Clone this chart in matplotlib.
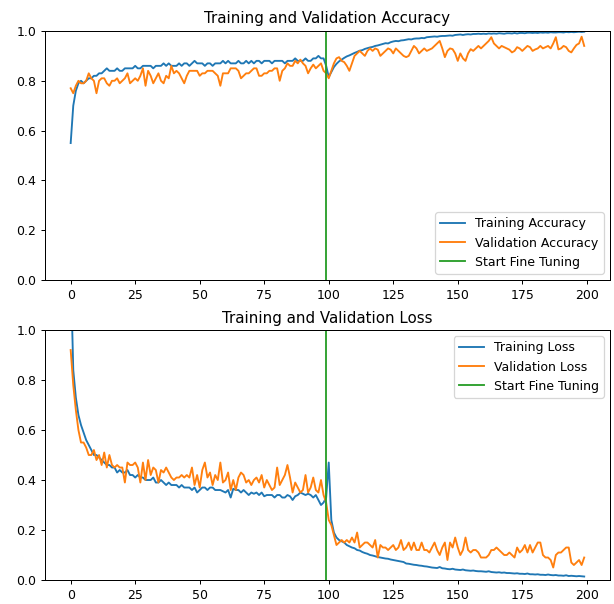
import matplotlib
matplotlib.use('Agg')
import matplotlib.pyplot as plt

# epochs 0..199, fine tuning starts after epoch 99
initial_epochs = 100

acc = [
    0.55, 0.70, 0.76, 0.79, 0.80, 0.79, 0.80, 0.81, 0.81, 0.82,
    0.82, 0.83, 0.83, 0.84, 0.85, 0.84, 0.84, 0.84, 0.85, 0.84,
    0.84, 0.85, 0.85, 0.85, 0.85, 0.86, 0.85, 0.85, 0.86, 0.86,
    0.86, 0.86, 0.85, 0.86, 0.86, 0.86, 0.87, 0.86, 0.87, 0.86,
    0.86, 0.86, 0.87, 0.86, 0.87, 0.87, 0.86, 0.87, 0.88, 0.87,
    0.87, 0.87, 0.86, 0.87, 0.87, 0.86, 0.87, 0.87, 0.87, 0.88,
    0.87, 0.88, 0.87, 0.87, 0.87, 0.88, 0.87, 0.87, 0.88, 0.87,
    0.88, 0.87, 0.88, 0.88, 0.87, 0.88, 0.88, 0.88, 0.87, 0.88,
    0.88, 0.88, 0.88, 0.87, 0.88, 0.88, 0.88, 0.89, 0.88, 0.88,
    0.88, 0.89, 0.88, 0.88, 0.89, 0.89, 0.90, 0.89, 0.89, 0.86,
    0.815, 0.835, 0.855, 0.868, 0.878, 0.885, 0.892, 0.898, 0.902, 0.907,
    0.912, 0.916, 0.921, 0.923, 0.928, 0.931, 0.934, 0.936, 0.94, 0.942,
    0.945, 0.948, 0.951, 0.95, 0.955, 0.958, 0.96, 0.959, 0.962, 0.963,
    0.965, 0.967, 0.966, 0.969, 0.97, 0.97, 0.972, 0.971, 0.975, 0.976,
    0.977, 0.978, 0.977, 0.979, 0.98, 0.98, 0.981, 0.982, 0.981, 0.984,
    0.985, 0.986, 0.984, 0.986, 0.987, 0.986, 0.988, 0.988, 0.989, 0.988,
    0.989, 0.988, 0.99, 0.989, 0.99, 0.989, 0.991, 0.99, 0.989, 0.991,
    0.991, 0.99, 0.992, 0.99, 0.992, 0.992, 0.991, 0.993, 0.993, 0.992,
    0.993, 0.992, 0.994, 0.993, 0.994, 0.993, 0.995, 0.994, 0.994, 0.995,
    0.995, 0.994, 0.996, 0.995, 0.996, 0.995, 0.996, 0.997, 0.996, 0.997,
]

val_acc = [
    0.77, 0.75, 0.78, 0.80, 0.79, 0.79, 0.80, 0.83, 0.81, 0.80,
    0.75, 0.80, 0.81, 0.81, 0.79, 0.78, 0.80, 0.80, 0.81, 0.79,
    0.80, 0.81, 0.83, 0.79, 0.80, 0.81, 0.80, 0.82, 0.85, 0.78,
    0.84, 0.82, 0.79, 0.81, 0.83, 0.80, 0.79, 0.82, 0.81, 0.86,
    0.83, 0.84, 0.83, 0.81, 0.79, 0.82, 0.84, 0.84, 0.84, 0.84,
    0.82, 0.83, 0.83, 0.84, 0.84, 0.84, 0.83, 0.82, 0.78, 0.83,
    0.83, 0.83, 0.85, 0.85, 0.85, 0.84, 0.81, 0.82, 0.83, 0.83,
    0.84, 0.85, 0.85, 0.82, 0.82, 0.83, 0.83, 0.84, 0.84, 0.85,
    0.85, 0.80, 0.84, 0.85, 0.87, 0.86, 0.86, 0.88, 0.87, 0.885,
    0.87, 0.86, 0.83, 0.85, 0.865, 0.85, 0.86, 0.87, 0.84, 0.83,
    0.81, 0.84, 0.87, 0.89, 0.895, 0.88, 0.875, 0.86, 0.84, 0.87,
    0.90, 0.91, 0.92, 0.91, 0.90, 0.92, 0.93, 0.92, 0.93, 0.925,
    0.90, 0.91, 0.92, 0.93, 0.925, 0.91, 0.93, 0.92, 0.91, 0.90,
    0.895, 0.90, 0.92, 0.94, 0.93, 0.91, 0.92, 0.93, 0.92, 0.925,
    0.93, 0.94, 0.95, 0.96, 0.93, 0.895, 0.92, 0.93, 0.927, 0.91,
    0.88, 0.91, 0.89, 0.88, 0.91, 0.927, 0.92, 0.93, 0.94, 0.93,
    0.94, 0.95, 0.96, 0.975, 0.95, 0.94, 0.93, 0.94, 0.935, 0.93,
    0.925, 0.914, 0.92, 0.935, 0.93, 0.92, 0.93, 0.94, 0.935, 0.92,
    0.926, 0.93, 0.94, 0.93, 0.935, 0.94, 0.93, 0.95, 0.975, 0.926,
    0.93, 0.94, 0.935, 0.92, 0.914, 0.93, 0.944, 0.95, 0.977, 0.94,
]

loss = [
    1.25, 0.84, 0.73, 0.66, 0.62, 0.59, 0.56, 0.54, 0.52, 0.50,
    0.50, 0.49, 0.48, 0.47, 0.46, 0.46, 0.45, 0.45, 0.43, 0.44,
    0.43, 0.43, 0.44, 0.42, 0.42, 0.41, 0.42, 0.41, 0.41, 0.40,
    0.40, 0.40, 0.41, 0.39, 0.39, 0.40, 0.39, 0.38, 0.39, 0.38,
    0.38, 0.38, 0.37, 0.38, 0.37, 0.37, 0.37, 0.36, 0.37, 0.35,
    0.36, 0.37, 0.37, 0.36, 0.37, 0.37, 0.36, 0.36, 0.36, 0.355,
    0.35, 0.36, 0.33, 0.365, 0.36, 0.36, 0.35, 0.36, 0.35, 0.34,
    0.35, 0.345, 0.35, 0.34, 0.35, 0.335, 0.34, 0.34, 0.34, 0.33,
    0.34, 0.34, 0.33, 0.33, 0.34, 0.335, 0.32, 0.335, 0.34, 0.35,
    0.345, 0.34, 0.345, 0.34, 0.33, 0.34, 0.32, 0.30, 0.31, 0.33,
    0.47, 0.24, 0.19, 0.17, 0.16, 0.155, 0.15, 0.14, 0.135, 0.13,
    0.127, 0.12, 0.118, 0.112, 0.108, 0.105, 0.10, 0.098, 0.095, 0.092,
    0.09, 0.088, 0.086, 0.085, 0.082, 0.08, 0.078, 0.076, 0.074, 0.072,
    0.066, 0.065, 0.063, 0.061, 0.06, 0.058, 0.057, 0.055, 0.054, 0.052,
    0.05, 0.049, 0.048, 0.052, 0.047, 0.046, 0.044, 0.043, 0.045, 0.042,
    0.041, 0.04, 0.042, 0.039, 0.038, 0.037, 0.038, 0.036, 0.035, 0.035,
    0.034, 0.033, 0.035, 0.032, 0.031, 0.03, 0.031, 0.029, 0.03, 0.028,
    0.028, 0.027, 0.026, 0.027, 0.025, 0.025, 0.024, 0.026, 0.023, 0.023,
    0.022, 0.023, 0.021, 0.021, 0.02, 0.022, 0.02, 0.019, 0.02, 0.018,
    0.018, 0.017, 0.019, 0.016, 0.017, 0.016, 0.015, 0.016, 0.015, 0.014,
]

val_loss = [
    0.92, 0.78, 0.68, 0.60, 0.55, 0.55, 0.53, 0.50, 0.50, 0.52,
    0.48, 0.50, 0.46, 0.51, 0.45, 0.50, 0.46, 0.45, 0.46, 0.45,
    0.45, 0.39, 0.47, 0.46, 0.46, 0.47, 0.45, 0.39, 0.47, 0.40,
    0.48, 0.42, 0.45, 0.44, 0.39, 0.44, 0.43, 0.45, 0.43, 0.41,
    0.40, 0.41, 0.41, 0.42, 0.41, 0.42, 0.41, 0.45, 0.38, 0.42,
    0.37, 0.44, 0.47, 0.41, 0.43, 0.38, 0.42, 0.40, 0.47, 0.39,
    0.40, 0.43, 0.36, 0.40, 0.36, 0.41, 0.43, 0.42, 0.39, 0.40,
    0.38, 0.40, 0.41, 0.39, 0.42, 0.37, 0.40, 0.38, 0.36, 0.37,
    0.45, 0.38, 0.40, 0.42, 0.46, 0.41, 0.35, 0.39, 0.37, 0.35,
    0.36, 0.42, 0.35, 0.37, 0.41, 0.36, 0.35, 0.40, 0.34, 0.31,
    0.24, 0.22, 0.18, 0.14, 0.15, 0.16, 0.15, 0.16, 0.15, 0.17,
    0.15, 0.19, 0.13, 0.14, 0.15, 0.15, 0.14, 0.13, 0.16, 0.09,
    0.14, 0.13, 0.13, 0.12, 0.13, 0.14, 0.12, 0.13, 0.16, 0.12,
    0.13, 0.15, 0.12, 0.15, 0.12, 0.12, 0.15, 0.12, 0.12, 0.11,
    0.13, 0.15, 0.12, 0.10, 0.13, 0.15, 0.08, 0.15, 0.13, 0.17,
    0.13, 0.10, 0.12, 0.17, 0.12, 0.11, 0.12, 0.12, 0.11, 0.09,
    0.09, 0.09, 0.10, 0.12, 0.12, 0.13, 0.12, 0.11, 0.10, 0.10,
    0.11, 0.10, 0.09, 0.13, 0.11, 0.12, 0.14, 0.11, 0.14, 0.11,
    0.13, 0.15, 0.15, 0.10, 0.09, 0.09, 0.08, 0.05, 0.10, 0.11,
    0.11, 0.12, 0.13, 0.13, 0.07, 0.06, 0.07, 0.08, 0.06, 0.09,
]

fig = plt.figure(figsize=(614 / 90, 604 / 90), dpi=90)

ax1 = fig.add_axes([0.0733, 0.5364, 0.920, 0.4123])
ax1.plot(acc, label='Training Accuracy')
ax1.plot(val_acc, label='Validation Accuracy')
ax1.plot([initial_epochs - 1, initial_epochs - 1], [0, 1], label='Start Fine Tuning')
ax1.set_ylim([0, 1.0])
ax1.legend(loc='lower right')
ax1.set_title('Training and Validation Accuracy')

ax2 = fig.add_axes([0.0733, 0.0397, 0.920, 0.4139])
ax2.plot(loss, label='Training Loss')
ax2.plot(val_loss, label='Validation Loss')
ax2.plot([initial_epochs - 1, initial_epochs - 1], [0, 1], label='Start Fine Tuning')
ax2.set_ylim([0, 1.0])
ax2.legend(loc='upper right')
ax2.set_title('Training and Validation Loss')

fig.savefig('out.png', dpi=90)
